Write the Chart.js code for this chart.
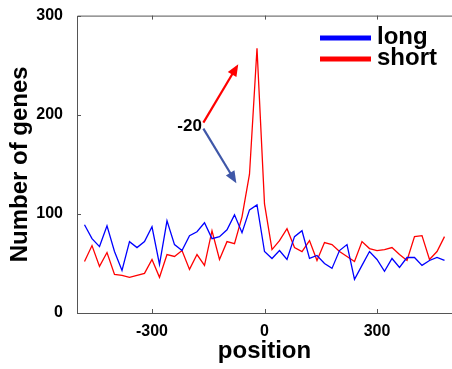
<!DOCTYPE html>
<html>
<head>
<meta charset="utf-8">
<script src="https://cdn.jsdelivr.net/npm/chart.js@4"></script>
<style>
  body { margin: 0; background: #fff; }
  canvas { display: block; }
</style>
</head>
<body>
<canvas id="grafico" width="452" height="369"></canvas>
<script>
// posições (bp) e contagens
const positions = [-480, -460, -440, -420, -400, -380, -360, -340, -320, -300,
  -280, -260, -240, -220, -200, -180, -160, -140, -120, -100,
  -80, -60, -40, -20, 0, 20, 40, 60, 80, 100,
  120, 140, 160, 180, 200, 220, 240, 260, 280, 300,
  320, 340, 360, 380, 400, 420, 440, 460, 480];
const longGenes = [89, 75, 67, 88, 62, 43, 72, 66, 72, 87,
  49, 93, 69, 63, 78, 82, 91, 75, 77, 84,
  99, 81, 104, 109, 62, 55, 63, 54, 77, 83,
  55, 58, 50, 45, 63, 69, 34, 48, 62, 54,
  42, 55, 46, 56, 56, 48, 53, 56, 53];
const shortGenes = [52, 68, 47, 61, 39, 38, 36, 38, 40, 54,
  36, 59, 57, 63, 44, 59, 48, 83, 54, 72,
  70, 97, 140, 267, 110, 64, 73, 85, 66, 62,
  73, 53, 71, 69, 62, 57, 52, 72, 65, 63,
  64, 66, 59, 53, 77, 78, 54, 62, 77];
const xTicks = [-300, 0, 300];
const yTicks = [0, 100, 200, 300];
const seriesNames = ['long', 'short'];

const FONT = "'Liberation Sans', Arial, sans-serif";

const moldura = {
  id: 'moldura',
  afterDatasetsDraw(chart) {
    const { ctx, chartArea: a, scales: { x, y } } = chart;
    ctx.save();
    ctx.strokeStyle = '#555';
    ctx.lineWidth = 1;
    // eixo de baixo, esquerdo e topo (a borda direita fica fora da imagem)
    ctx.beginPath();
    ctx.moveTo(a.right, a.top + 0.5);
    ctx.lineTo(a.left + 0.5, a.top + 0.5);
    ctx.lineTo(a.left + 0.5, a.bottom + 0.5);
    ctx.lineTo(a.right, a.bottom + 0.5);
    // ticks para dentro
    xTicks.forEach(v => {
      const px = Math.round(x.getPixelForValue(v)) + 0.5;
      ctx.moveTo(px, a.bottom); ctx.lineTo(px, a.bottom - 4);
      ctx.moveTo(px, a.top); ctx.lineTo(px, a.top + 4);
    });
    yTicks.forEach(v => {
      const py = Math.round(y.getPixelForValue(v)) + 0.5;
      ctx.moveTo(a.left, py); ctx.lineTo(a.left + 4, py);
    });
    ctx.stroke();

    // legenda
    ctx.font = 'bold 24px ' + FONT;
    ctx.textBaseline = 'middle';
    ctx.fillStyle = '#000';
    chart.data.datasets.forEach((ds, i) => {
      const ly = 38 + i * 21;
      ctx.strokeStyle = ds.borderColor;
      ctx.lineWidth = 5;
      ctx.beginPath();
      ctx.moveTo(320, ly); ctx.lineTo(371, ly);
      ctx.stroke();
      ctx.fillText(ds.label, 377, ly - 1);
    });

    // anotação -20
    const seta = (x0, y0, x1, y1, cor) => {
      const p0 = [x.getPixelForValue(x0), y.getPixelForValue(y0)];
      const p1 = [x.getPixelForValue(x1), y.getPixelForValue(y1)];
      const ang = Math.atan2(p1[1] - p0[1], p1[0] - p0[0]);
      ctx.strokeStyle = cor; ctx.fillStyle = cor; ctx.lineWidth = 2.2;
      ctx.beginPath();
      ctx.moveTo(p0[0], p0[1]);
      ctx.lineTo(p1[0] - 8 * Math.cos(ang), p1[1] - 8 * Math.sin(ang));
      ctx.stroke();
      ctx.beginPath();
      ctx.moveTo(p1[0], p1[1]);
      ctx.lineTo(p1[0] - 12 * Math.cos(ang) + 5 * Math.sin(ang), p1[1] - 12 * Math.sin(ang) - 5 * Math.cos(ang));
      ctx.lineTo(p1[0] - 12 * Math.cos(ang) - 5 * Math.sin(ang), p1[1] - 12 * Math.sin(ang) + 5 * Math.cos(ang));
      ctx.closePath();
      ctx.fill();
    };
    seta(-163, 192, -70, 251, '#ff0000');
    seta(-163, 186, -75, 131, '#3f57a8');
    ctx.fillStyle = '#000';
    ctx.font = 'bold 17px ' + FONT;
    ctx.textAlign = 'right';
    ctx.textBaseline = 'middle';
    ctx.fillText('-20', x.getPixelForValue(-167), y.getPixelForValue(188));
    ctx.restore();
  }
};

new Chart(document.getElementById('grafico').getContext('2d'), {
  type: 'line',
  data: {
    datasets: [{
      label: seriesNames[0],
      data: positions.map((p, i) => ({ x: p, y: longGenes[i] })),
      borderColor: '#0000ff',
      borderWidth: 1.3,
      pointRadius: 0,
      tension: 0
    }, {
      label: seriesNames[1],
      data: positions.map((p, i) => ({ x: p, y: shortGenes[i] })),
      borderColor: '#ff0000',
      borderWidth: 1.3,
      pointRadius: 0,
      tension: 0
    }]
  },
  options: {
    responsive: false,
    animation: false,
    layout: { padding: { top: 14, right: 0, left: 0, bottom: 0 } },
    plugins: { legend: { display: false }, tooltip: { enabled: false } },
    scales: {
      x: {
        type: 'linear',
        min: -500,
        max: 500,
        afterBuildTicks: s => { s.ticks = xTicks.map(v => ({ value: v })); },
        afterFit: s => { s.height = 56; },
        grid: { display: false },
        border: { display: false },
        ticks: { color: '#000', font: { family: FONT, size: 16, weight: 'bold' }, padding: 1 },
        title: { display: true, text: 'position', color: '#000', font: { family: FONT, size: 24, weight: 'bold' }, padding: { top: 0, bottom: 3 } }
      },
      y: {
        min: 0,
        max: 300,
        afterBuildTicks: s => { s.ticks = yTicks.map(v => ({ value: v })); },
        afterFit: s => { s.width = 77; },
        grid: { display: false },
        border: { display: false },
        ticks: { color: '#000', font: { family: FONT, size: 16, weight: 'bold' }, padding: 6 },
        title: { display: true, text: 'Number of genes', color: '#000', font: { family: FONT, size: 24, weight: 'bold' }, padding: { top: 6, bottom: 0 } }
      }
    }
  },
  plugins: [moldura]
});
</script>
</body>
</html>
